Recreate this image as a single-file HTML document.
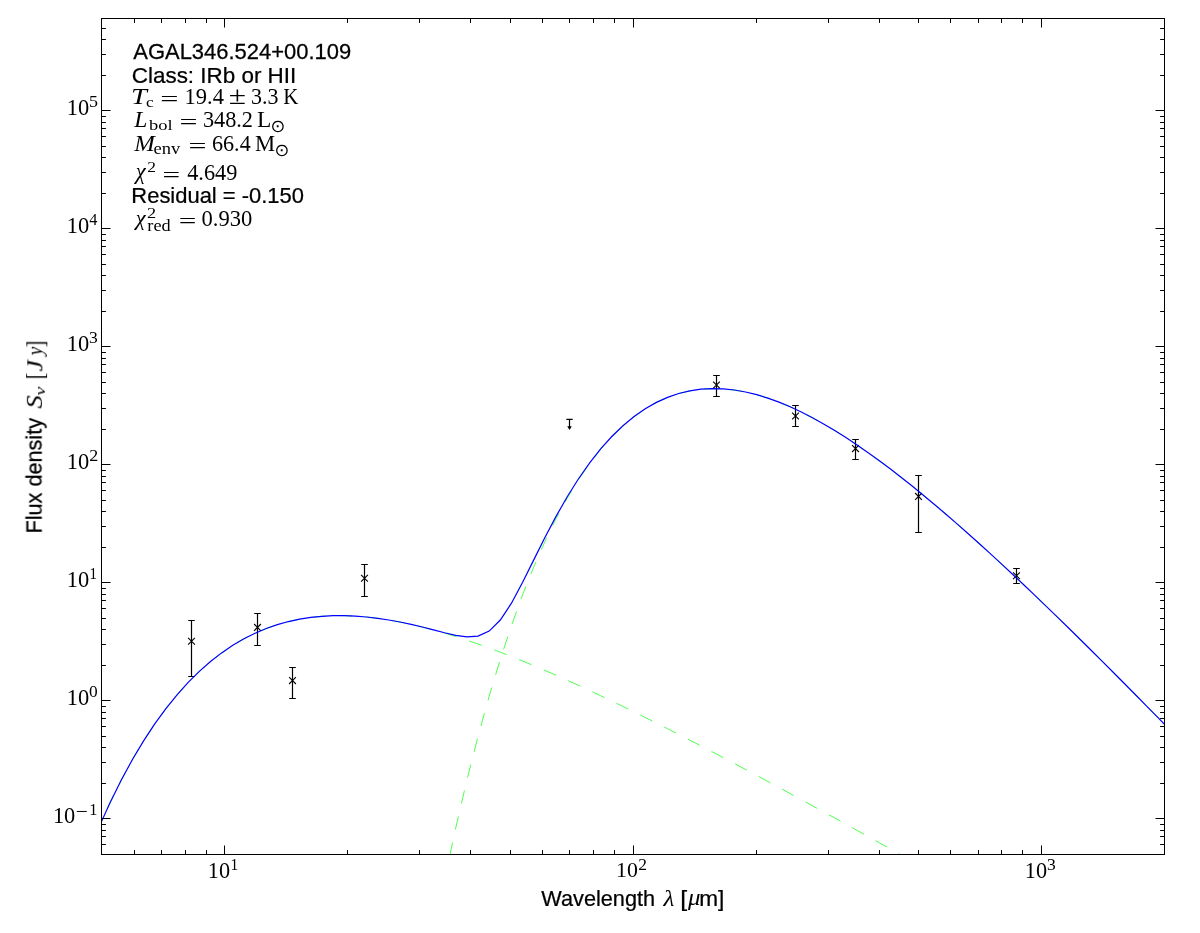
<!DOCTYPE html><html><head><meta charset="utf-8"><style>html,body{margin:0;padding:0;background:#fff;width:1200px;height:933px;overflow:hidden}svg{display:block} text{will-change:transform}</style></head><body><svg width="1200" height="933" viewBox="0 0 1200 933">
<rect width="1200" height="933" fill="#fff"/>
<defs><clipPath id="ax"><rect x="101.5" y="18.5" width="1063" height="836"/></clipPath></defs>
<g clip-path="url(#ax)" fill="none">
<path d="M43.27,985.99 L54.42,948.82 L65.57,914.51 L76.72,882.87 L87.86,853.76 L99.01,827.00 L110.16,802.46 L121.31,780.01 L132.45,759.51 L143.60,740.84 L154.75,723.90 L165.90,708.58 L177.05,694.77 L188.19,682.39 L199.34,671.33 L210.49,661.53 L221.64,652.89 L232.78,645.34 L243.93,638.80 L255.08,633.22 L266.23,628.53 L277.37,624.65 L288.52,621.54 L299.67,619.15 L310.82,617.41 L321.96,616.28 L333.11,615.71 L344.26,615.67 L355.41,616.11 L366.55,617.00 L377.70,618.30 L388.85,619.98 L400.00,622.01 L411.14,624.36 L422.29,627.02 L433.44,629.94 L444.59,633.12 L455.73,636.54 L466.88,640.17 L478.03,644.00 L489.18,648.01 L500.32,652.20 L511.47,656.54 L522.62,661.03 L533.77,665.65 L544.91,670.40 L556.06,675.26 L567.21,680.23 L578.36,685.30 L589.50,690.47 L600.65,695.71 L611.80,701.04 L622.95,706.44 L634.09,711.91 L645.24,717.45 L656.39,723.04 L667.54,728.69 L678.68,734.39 L689.83,740.14 L700.98,745.93 L712.13,751.76 L723.27,757.64 L734.42,763.55 L745.57,769.49 L756.72,775.47 L767.86,781.47 L779.01,787.51 L790.16,793.57 L801.31,799.65 L812.46,805.76 L823.60,811.88 L834.75,818.03 L845.90,824.20 L857.05,830.38 L868.19,836.58 L879.34,842.79 L890.49,849.02 L901.64,855.26 L912.78,861.52 L923.93,867.78 L935.08,874.06 L946.23,880.34 L957.37,886.64 L968.52,892.95 L979.67,899.26 L990.82,905.58 L1001.96,911.91 L1013.11,918.25 L1024.26,924.59 L1035.41,930.94 L1046.55,937.30 L1057.70,943.66 L1068.85,950.02 L1080.00,956.39 L1091.14,962.77 L1102.29,969.15 L1113.44,975.53 L1124.59,981.92 L1135.73,988.31 L1146.88,994.70" stroke="#4dff4d" stroke-width="1.0" stroke-dasharray="13.33 13.33" stroke-dashoffset="24.02"/>
<path d="M422.29,996.64 L433.44,935.86 L444.59,879.72 L455.73,827.92 L466.88,780.21 L478.03,736.34 L489.18,696.07 L500.32,659.19 L511.47,625.49 L522.62,594.77 L533.77,566.85 L544.91,541.56 L556.06,518.75 L567.21,498.25 L578.36,479.94 L589.50,463.67 L600.65,449.32 L611.80,436.77 L622.95,425.92 L634.09,416.66 L645.24,408.88 L656.39,402.50 L667.54,397.42 L678.68,393.57 L689.83,390.86 L700.98,389.23 L712.13,388.59 L723.27,388.88 L734.42,390.04 L745.57,392.00 L756.72,394.72 L767.86,398.13 L779.01,402.18 L790.16,406.84 L801.31,412.04 L812.46,417.76 L823.60,423.94 L834.75,430.57 L845.90,437.59 L857.05,444.99 L868.19,452.73 L879.34,460.79 L890.49,469.14 L901.64,477.75 L912.78,486.62 L923.93,495.71 L935.08,505.01 L946.23,514.51 L957.37,524.19 L968.52,534.04 L979.67,544.04 L990.82,554.18 L1001.96,564.46 L1013.11,574.86 L1024.26,585.37 L1035.41,595.98 L1046.55,606.69 L1057.70,617.50 L1068.85,628.38 L1080.00,639.35 L1091.14,650.38 L1102.29,661.49 L1113.44,672.65 L1124.59,683.88 L1135.73,695.16 L1146.88,706.49 L1158.03,717.86 L1169.18,729.28 L1180.32,740.75 L1191.47,752.25 L1202.62,763.78 L1213.77,775.35 L1224.91,786.95 L1236.06,798.58 L1247.21,810.24 L1258.36,821.92 L1269.50,833.62 L1280.65,845.35 L1291.80,857.10 L1302.95,868.86 L1314.09,880.65 L1325.24,892.45" stroke="#4dff4d" stroke-width="1.0" stroke-dasharray="13.33 13.33" stroke-dashoffset="16.20"/>
</g>
<g stroke="#000" stroke-width="1.2" fill="none">
<path d="M191.5,620.5 V676.5 M188.2,620.5 h6.6 M188.2,676.5 h6.6"/>
<path d="M188.10,637.90 l6.8,6.8 M188.10,644.70 l6.8,-6.8" stroke-width="1.1"/>
<path d="M257.5,613.5 V645.5 M254.2,613.5 h6.6 M254.2,645.5 h6.6"/>
<path d="M254.10,624.00 l6.8,6.8 M254.10,630.80 l6.8,-6.8" stroke-width="1.1"/>
<path d="M292.5,667.5 V698.5 M289.2,667.5 h6.6 M289.2,698.5 h6.6"/>
<path d="M289.10,677.20 l6.8,6.8 M289.10,684.00 l6.8,-6.8" stroke-width="1.1"/>
<path d="M364.5,564.5 V596.5 M361.2,564.5 h6.6 M361.2,596.5 h6.6"/>
<path d="M361.10,574.90 l6.8,6.8 M361.10,581.70 l6.8,-6.8" stroke-width="1.1"/>
<path d="M716.5,375.5 V396.5 M713.2,375.5 h6.6 M713.2,396.5 h6.6"/>
<path d="M713.10,381.60 l6.8,6.8 M713.10,388.40 l6.8,-6.8" stroke-width="1.1"/>
<path d="M795.5,405.5 V426.5 M792.2,405.5 h6.6 M792.2,426.5 h6.6"/>
<path d="M792.10,412.60 l6.8,6.8 M792.10,419.40 l6.8,-6.8" stroke-width="1.1"/>
<path d="M855.5,439.5 V459.5 M852.2,439.5 h6.6 M852.2,459.5 h6.6"/>
<path d="M852.10,445.20 l6.8,6.8 M852.10,452.00 l6.8,-6.8" stroke-width="1.1"/>
<path d="M918.5,475.5 V532.5 M915.2,475.5 h6.6 M915.2,532.5 h6.6"/>
<path d="M915.10,493.00 l6.8,6.8 M915.10,499.80 l6.8,-6.8" stroke-width="1.1"/>
<path d="M1016.5,568.5 V583.5 M1013.2,568.5 h6.6 M1013.2,583.5 h6.6"/>
<path d="M1013.10,572.40 l6.8,6.8 M1013.10,579.20 l6.8,-6.8" stroke-width="1.1"/>
<path d="M569.5,419.3 V427 M566.3,419.3 h6.4"/>
</g>
<path d="M567.2,426.2 L571.8,426.2 L569.5,430 Z" fill="#000"/>
<g clip-path="url(#ax)" fill="none">
<path d="M-57.05,1483.79 L-45.91,1410.99 L-34.76,1343.22 L-23.61,1280.17 L-12.46,1221.54 L-1.32,1167.08 L9.83,1116.52 L20.98,1069.64 L32.13,1026.20 L43.27,985.99 L54.42,948.82 L65.57,914.51 L76.72,882.87 L87.86,853.76 L99.01,827.00 L110.16,802.46 L121.31,780.01 L132.45,759.51 L143.60,740.84 L154.75,723.90 L165.90,708.58 L177.05,694.77 L188.19,682.39 L199.34,671.33 L210.49,661.53 L221.64,652.89 L232.78,645.34 L243.93,638.80 L255.08,633.22 L266.23,628.53 L277.37,624.65 L288.52,621.54 L299.67,619.15 L310.82,617.41 L321.96,616.28 L333.11,615.71 L344.26,615.67 L355.41,616.11 L366.55,617.00 L377.70,618.30 L388.85,619.98 L400.00,622.01 L411.14,624.35 L422.29,626.98 L433.44,629.81 L444.59,632.71 L455.73,635.33 L466.88,636.94 L478.03,636.17 L489.18,631.08 L500.32,620.05 L511.47,603.18 L522.62,582.34 L533.77,559.89 L544.91,537.57 L556.06,516.39 L567.21,496.80 L578.36,479.01 L589.50,463.06 L600.65,448.90 L611.80,436.48 L622.95,425.71 L634.09,416.49 L645.24,408.75 L656.39,402.40 L667.54,397.34 L678.68,393.50 L689.83,390.81 L700.98,389.18 L712.13,388.54 L723.27,388.84 L734.42,390.00 L745.57,391.97 L756.72,394.69 L767.86,398.10 L779.01,402.16 L790.16,406.81 L801.31,412.01 L812.46,417.73 L823.60,423.92 L834.75,430.54 L845.90,437.57 L857.05,444.96 L868.19,452.70 L879.34,460.76 L890.49,469.10 L901.64,477.72 L912.78,486.58 L923.93,495.67 L935.08,504.98 L946.23,514.47 L957.37,524.15 L968.52,533.99 L979.67,543.99 L990.82,554.13 L1001.96,564.40 L1013.11,574.79 L1024.26,585.30 L1035.41,595.91 L1046.55,606.61 L1057.70,617.41 L1068.85,628.29 L1080.00,639.24 L1091.14,650.27 L1102.29,661.36 L1113.44,672.51 L1124.59,683.73 L1135.73,694.99 L1146.88,706.30 L1158.03,717.66 L1169.18,729.06 L1180.32,740.50 L1191.47,751.97 L1202.62,763.48 L1213.77,775.02 L1224.91,786.58 L1236.06,798.17 L1247.21,809.78 L1258.36,821.42 L1269.50,833.07 L1280.65,844.73 L1291.80,856.41 L1302.95,868.11 L1314.09,879.81 L1325.24,891.52" stroke="#0000ff" stroke-width="1.2"/>
</g>
<path d="M134.5,854.5 v-4.4 M134.5,18.5 v4.4 M161.5,854.5 v-4.4 M161.5,18.5 v4.4 M185.5,854.5 v-4.4 M185.5,18.5 v4.4 M206.5,854.5 v-4.4 M206.5,18.5 v4.4 M224.5,854.5 v-9.0 M224.5,18.5 v9.0 M347.5,854.5 v-4.4 M347.5,18.5 v4.4 M419.5,854.5 v-4.4 M419.5,18.5 v4.4 M470.5,854.5 v-4.4 M470.5,18.5 v4.4 M510.5,854.5 v-4.4 M510.5,18.5 v4.4 M542.5,854.5 v-4.4 M542.5,18.5 v4.4 M569.5,854.5 v-4.4 M569.5,18.5 v4.4 M593.5,854.5 v-4.4 M593.5,18.5 v4.4 M614.5,854.5 v-4.4 M614.5,18.5 v4.4 M633.5,854.5 v-9.0 M633.5,18.5 v9.0 M756.5,854.5 v-4.4 M756.5,18.5 v4.4 M828.5,854.5 v-4.4 M828.5,18.5 v4.4 M879.5,854.5 v-4.4 M879.5,18.5 v4.4 M918.5,854.5 v-4.4 M918.5,18.5 v4.4 M950.5,854.5 v-4.4 M950.5,18.5 v4.4 M978.5,854.5 v-4.4 M978.5,18.5 v4.4 M1001.5,854.5 v-4.4 M1001.5,18.5 v4.4 M1022.5,854.5 v-4.4 M1022.5,18.5 v4.4 M1041.5,854.5 v-9.0 M1041.5,18.5 v9.0 M101.5,844.5 h4.4 M1164.5,844.5 h-4.4 M101.5,836.5 h4.4 M1164.5,836.5 h-4.4 M101.5,830.5 h4.4 M1164.5,830.5 h-4.4 M101.5,824.5 h4.4 M1164.5,824.5 h-4.4 M101.5,818.5 h9.0 M1164.5,818.5 h-9.0 M101.5,783.5 h4.4 M1164.5,783.5 h-4.4 M101.5,762.5 h4.4 M1164.5,762.5 h-4.4 M101.5,747.5 h4.4 M1164.5,747.5 h-4.4 M101.5,736.5 h4.4 M1164.5,736.5 h-4.4 M101.5,726.5 h4.4 M1164.5,726.5 h-4.4 M101.5,718.5 h4.4 M1164.5,718.5 h-4.4 M101.5,712.5 h4.4 M1164.5,712.5 h-4.4 M101.5,706.5 h4.4 M1164.5,706.5 h-4.4 M101.5,700.5 h9.0 M1164.5,700.5 h-9.0 M101.5,665.5 h4.4 M1164.5,665.5 h-4.4 M101.5,644.5 h4.4 M1164.5,644.5 h-4.4 M101.5,629.5 h4.4 M1164.5,629.5 h-4.4 M101.5,618.5 h4.4 M1164.5,618.5 h-4.4 M101.5,608.5 h4.4 M1164.5,608.5 h-4.4 M101.5,600.5 h4.4 M1164.5,600.5 h-4.4 M101.5,594.5 h4.4 M1164.5,594.5 h-4.4 M101.5,588.5 h4.4 M1164.5,588.5 h-4.4 M101.5,582.5 h9.0 M1164.5,582.5 h-9.0 M101.5,547.5 h4.4 M1164.5,547.5 h-4.4 M101.5,526.5 h4.4 M1164.5,526.5 h-4.4 M101.5,511.5 h4.4 M1164.5,511.5 h-4.4 M101.5,500.5 h4.4 M1164.5,500.5 h-4.4 M101.5,490.5 h4.4 M1164.5,490.5 h-4.4 M101.5,482.5 h4.4 M1164.5,482.5 h-4.4 M101.5,476.5 h4.4 M1164.5,476.5 h-4.4 M101.5,470.5 h4.4 M1164.5,470.5 h-4.4 M101.5,464.5 h9.0 M1164.5,464.5 h-9.0 M101.5,429.5 h4.4 M1164.5,429.5 h-4.4 M101.5,408.5 h4.4 M1164.5,408.5 h-4.4 M101.5,393.5 h4.4 M1164.5,393.5 h-4.4 M101.5,382.5 h4.4 M1164.5,382.5 h-4.4 M101.5,372.5 h4.4 M1164.5,372.5 h-4.4 M101.5,364.5 h4.4 M1164.5,364.5 h-4.4 M101.5,358.5 h4.4 M1164.5,358.5 h-4.4 M101.5,352.5 h4.4 M1164.5,352.5 h-4.4 M101.5,346.5 h9.0 M1164.5,346.5 h-9.0 M101.5,311.5 h4.4 M1164.5,311.5 h-4.4 M101.5,290.5 h4.4 M1164.5,290.5 h-4.4 M101.5,275.5 h4.4 M1164.5,275.5 h-4.4 M101.5,264.5 h4.4 M1164.5,264.5 h-4.4 M101.5,254.5 h4.4 M1164.5,254.5 h-4.4 M101.5,246.5 h4.4 M1164.5,246.5 h-4.4 M101.5,240.5 h4.4 M1164.5,240.5 h-4.4 M101.5,234.5 h4.4 M1164.5,234.5 h-4.4 M101.5,228.5 h9.0 M1164.5,228.5 h-9.0 M101.5,193.5 h4.4 M1164.5,193.5 h-4.4 M101.5,172.5 h4.4 M1164.5,172.5 h-4.4 M101.5,157.5 h4.4 M1164.5,157.5 h-4.4 M101.5,146.5 h4.4 M1164.5,146.5 h-4.4 M101.5,136.5 h4.4 M1164.5,136.5 h-4.4 M101.5,128.5 h4.4 M1164.5,128.5 h-4.4 M101.5,122.5 h4.4 M1164.5,122.5 h-4.4 M101.5,116.5 h4.4 M1164.5,116.5 h-4.4 M101.5,110.5 h9.0 M1164.5,110.5 h-9.0 M101.5,75.5 h4.4 M1164.5,75.5 h-4.4 M101.5,54.5 h4.4 M1164.5,54.5 h-4.4 M101.5,39.5 h4.4 M1164.5,39.5 h-4.4 M101.5,28.5 h4.4 M1164.5,28.5 h-4.4" stroke="#000" stroke-width="1" fill="none"/>
<rect x="101.5" y="18.5" width="1063" height="836" fill="none" stroke="#000" stroke-width="1"/>
<text transform="matrix(0.21964,0.00000,0.00000,0.22535,133.25000,58.77465)" font-family="'Liberation Sans', Arial, Helvetica, sans-serif" stroke="#000" stroke-width="1.138" font-size="100">AGAL346.524+00.109</text>
<text transform="matrix(0.22434,0.00000,0.00000,0.21486,131.77830,82.78514)" font-family="'Liberation Sans', Arial, Helvetica, sans-serif" stroke="#000" stroke-width="1.114" font-size="100">Class: IRb or HII</text>
<text transform="matrix(0.28519,0.00000,0.00000,0.23385,131.00370,104.20000)" font-family="'Liberation Serif', 'Times New Roman', serif" font-style="italic" font-size="100">T</text>
<text transform="matrix(0.17297,0.00000,0.00000,0.13750,146.00811,106.76250)" font-family="'Liberation Serif', 'Times New Roman', serif" font-size="100">c</text>
<text transform="matrix(0.32340,0.00000,0.00000,0.22000,160.28298,105.72000)" font-family="'Liberation Serif', 'Times New Roman', serif" font-size="100">=</text>
<text transform="matrix(0.22500,0.00000,0.00000,0.22388,184.57500,103.97612)" font-family="'Liberation Serif', 'Times New Roman', serif" font-size="100">19.4</text>
<text transform="matrix(0.31489,0.00000,0.00000,0.25268,228.84043,103.90000)" font-family="'Liberation Serif', 'Times New Roman', serif" font-size="100">±</text>
<text transform="matrix(0.21983,0.00000,0.00000,0.22727,250.90086,103.97273)" font-family="'Liberation Serif', 'Times New Roman', serif" font-size="100">3.3</text>
<text transform="matrix(0.20882,0.00000,0.00000,0.22769,283.27353,104.00000)" font-family="'Liberation Serif', 'Times New Roman', serif" font-size="100">K</text>
<text transform="matrix(0.23654,0.00000,0.00000,0.22615,134.23654,127.00000)" font-family="'Liberation Serif', 'Times New Roman', serif" font-style="italic" font-size="100">L</text>
<text transform="matrix(0.18492,0.00000,0.00000,0.15571,149.00000,129.74429)" font-family="'Liberation Serif', 'Times New Roman', serif" font-size="100">bol</text>
<text transform="matrix(0.31915,0.00000,0.00000,0.20800,179.40426,128.56800)" font-family="'Liberation Serif', 'Times New Roman', serif" font-size="100">=</text>
<text transform="matrix(0.22290,0.00000,0.00000,0.22836,202.88551,126.74328)" font-family="'Liberation Serif', 'Times New Roman', serif" font-size="100">348.2</text>
<text transform="matrix(0.23462,0.00000,0.00000,0.23231,257.09615,127.00000)" font-family="'Liberation Serif', 'Times New Roman', serif" font-size="100">L</text>
<text transform="matrix(0.17727,0.00000,0.00000,0.17692,270.50455,131.52308)" font-family="'DejaVu Sans', sans-serif" font-size="100">⊙</text>
<text transform="matrix(0.24719,0.00000,0.00000,0.22923,134.24719,151.00000)" font-family="'Liberation Serif', 'Times New Roman', serif" font-style="italic" font-size="100">M</text>
<text transform="matrix(0.18571,0.00000,0.00000,0.16042,153.55714,153.83958)" font-family="'Liberation Serif', 'Times New Roman', serif" font-size="100">env</text>
<text transform="matrix(0.31915,0.00000,0.00000,0.20800,188.40426,152.56800)" font-family="'Liberation Serif', 'Times New Roman', serif" font-size="100">=</text>
<text transform="matrix(0.22189,0.00000,0.00000,0.22836,211.91243,150.74328)" font-family="'Liberation Serif', 'Times New Roman', serif" font-size="100">66.4</text>
<text transform="matrix(0.22651,0.00000,0.00000,0.22923,254.92048,151.00000)" font-family="'Liberation Serif', 'Times New Roman', serif" font-size="100">M</text>
<text transform="matrix(0.17727,0.00000,0.00000,0.17692,274.40455,155.52308)" font-family="'DejaVu Sans', sans-serif" font-size="100">⊙</text>
<text transform="matrix(0.22500,0.00000,0.00000,0.22537,135.65000,179.36716)" font-family="'Liberation Serif', 'Times New Roman', serif" font-style="italic" font-size="100">χ</text>
<text transform="matrix(0.17500,0.00000,0.00000,0.15077,147.20000,171.90000)" font-family="'Liberation Serif', 'Times New Roman', serif" font-size="100">2</text>
<text transform="matrix(0.31277,0.00000,0.00000,0.20400,162.53617,181.58400)" font-family="'Liberation Serif', 'Times New Roman', serif" font-size="100">=</text>
<text transform="matrix(0.22329,0.00000,0.00000,0.22239,187.15342,179.75522)" font-family="'Liberation Serif', 'Times New Roman', serif" font-size="100">4.649</text>
<text transform="matrix(0.21961,0.00000,0.00000,0.21757,131.34310,202.98243)" font-family="'Liberation Sans', Arial, Helvetica, sans-serif" stroke="#000" stroke-width="1.138" font-size="100">Residual = -0.150</text>
<text transform="matrix(0.22407,0.00000,0.00000,0.21791,135.79259,225.42388)" font-family="'Liberation Serif', 'Times New Roman', serif" font-style="italic" font-size="100">χ</text>
<text transform="matrix(0.18250,0.00000,0.00000,0.15538,146.97000,218.00000)" font-family="'Liberation Serif', 'Times New Roman', serif" font-size="100">2</text>
<text transform="matrix(0.18320,0.00000,0.00000,0.15714,147.33360,231.44286)" font-family="'Liberation Serif', 'Times New Roman', serif" font-size="100">red</text>
<text transform="matrix(0.31277,0.00000,0.00000,0.20000,178.63617,227.60000)" font-family="'Liberation Serif', 'Times New Roman', serif" font-size="100">=</text>
<text transform="matrix(0.22581,0.00000,0.00000,0.22239,201.49677,225.95522)" font-family="'Liberation Serif', 'Times New Roman', serif" font-size="100">0.930</text>
<text transform="matrix(0.21712,0.00000,0.00000,0.21489,541.28288,905.88723)" font-family="'Liberation Sans', Arial, Helvetica, sans-serif" stroke="#000" stroke-width="1.151" font-size="100">Wavelength</text>
<text transform="matrix(0.25233,0.00000,0.00000,0.22286,663.40465,905.80000)" font-family="'Liberation Serif', 'Times New Roman', serif" font-style="italic" font-size="100">λ</text>
<text transform="matrix(0.25000,0.00000,0.00000,0.21489,680.35000,905.88723)" font-family="'Liberation Sans', Arial, Helvetica, sans-serif" stroke="#000" stroke-width="1.000" font-size="100">[</text>
<text transform="matrix(0.24894,0.00000,0.00000,0.22985,687.90000,905.17313)" font-family="'Liberation Serif', 'Times New Roman', serif" font-style="italic" font-size="100">μ</text>
<text transform="matrix(0.22577,0.00000,0.00000,0.21489,699.21959,905.88723)" font-family="'Liberation Sans', Arial, Helvetica, sans-serif" stroke="#000" stroke-width="1.107" font-size="100">m]</text>
<text transform="matrix(0.00000,-0.21676,0.21596,0.00000,41.86489,533.53410)" font-family="'Liberation Sans', Arial, Helvetica, sans-serif" stroke="#000" stroke-width="1.158" font-size="100">Flux density</text>
<text transform="matrix(0.00000,-0.26596,0.24030,0.00000,41.71940,408.56596)" font-family="'Liberation Serif', 'Times New Roman', serif" font-style="italic" font-size="100">S</text>
<text transform="matrix(0.00000,-0.19762,0.14468,0.00000,44.65532,395.49524)" font-family="'Liberation Serif', 'Times New Roman', serif" font-style="italic" font-size="100">ν</text>
<text transform="matrix(0.00000,-0.19565,0.25122,0.00000,43.43415,379.16957)" font-family="'Liberation Serif', 'Times New Roman', serif" font-size="100">[</text>
<text transform="matrix(0.00000,-0.25870,0.23939,0.00000,42.66061,371.51739)" font-family="'Liberation Serif', 'Times New Roman', serif" font-style="italic" font-size="100">J</text>
<text transform="matrix(0.00000,-0.19231,0.21194,0.00000,41.64925,355.36154)" font-family="'Liberation Serif', 'Times New Roman', serif" font-style="italic" font-size="100">y</text>
<text transform="matrix(0.00000,-0.20455,0.25122,0.00000,43.43415,347.41818)" font-family="'Liberation Serif', 'Times New Roman', serif" font-size="100">]</text>
<text transform="matrix(0.22299,0.00000,0.00000,0.22059,207.79310,877.55882)" font-family="'Liberation Serif', 'Times New Roman', serif" font-size="100">10</text>
<text transform="matrix(0.15429,0.00000,0.00000,0.16364,230.41143,869.80000)" font-family="'Liberation Serif', 'Times New Roman', serif" font-size="100">1</text>
<text transform="matrix(0.21839,0.00000,0.00000,0.21691,616.03448,877.41618)" font-family="'Liberation Serif', 'Times New Roman', serif" font-size="100">10</text>
<text transform="matrix(0.17500,0.00000,0.00000,0.16308,638.20000,869.90000)" font-family="'Liberation Serif', 'Times New Roman', serif" font-size="100">2</text>
<text transform="matrix(0.22299,0.00000,0.00000,0.22059,1024.79310,877.55882)" font-family="'Liberation Serif', 'Times New Roman', serif" font-size="100">10</text>
<text transform="matrix(0.17561,0.00000,0.00000,0.16364,1046.92195,869.63636)" font-family="'Liberation Serif', 'Times New Roman', serif" font-size="100">3</text>
<text transform="matrix(0.22471,0.00000,0.00000,0.22500,66.72759,114.95000)" font-family="'Liberation Serif', 'Times New Roman', serif" font-size="100">10</text>
<text transform="matrix(0.18000,0.00000,0.00000,0.16136,88.92000,106.58864)" font-family="'Liberation Serif', 'Times New Roman', serif" font-size="100">5</text>
<text transform="matrix(0.22471,0.00000,0.00000,0.22500,66.72759,232.95000)" font-family="'Liberation Serif', 'Times New Roman', serif" font-size="100">10</text>
<text transform="matrix(0.16304,0.00000,0.00000,0.16385,89.27391,224.75000)" font-family="'Liberation Serif', 'Times New Roman', serif" font-size="100">4</text>
<text transform="matrix(0.22471,0.00000,0.00000,0.22500,66.72759,350.95000)" font-family="'Liberation Serif', 'Times New Roman', serif" font-size="100">10</text>
<text transform="matrix(0.17561,0.00000,0.00000,0.16136,89.02195,342.58864)" font-family="'Liberation Serif', 'Times New Roman', serif" font-size="100">3</text>
<text transform="matrix(0.22471,0.00000,0.00000,0.22500,66.72759,468.95000)" font-family="'Liberation Serif', 'Times New Roman', serif" font-size="100">10</text>
<text transform="matrix(0.18000,0.00000,0.00000,0.16385,89.18000,460.75000)" font-family="'Liberation Serif', 'Times New Roman', serif" font-size="100">2</text>
<text transform="matrix(0.22471,0.00000,0.00000,0.22500,66.72759,586.95000)" font-family="'Liberation Serif', 'Times New Roman', serif" font-size="100">10</text>
<text transform="matrix(0.14857,0.00000,0.00000,0.16136,89.46286,578.75000)" font-family="'Liberation Serif', 'Times New Roman', serif" font-size="100">1</text>
<text transform="matrix(0.22471,0.00000,0.00000,0.22500,66.72759,704.95000)" font-family="'Liberation Serif', 'Times New Roman', serif" font-size="100">10</text>
<text transform="matrix(0.17381,0.00000,0.00000,0.15896,89.10476,697.03209)" font-family="'Liberation Serif', 'Times New Roman', serif" font-size="100">0</text>
<text transform="matrix(0.22414,0.00000,0.00000,0.22500,52.88276,822.95000)" font-family="'Liberation Serif', 'Times New Roman', serif" font-size="100">10</text>
<text transform="matrix(0.21489,0.00000,0.00000,0.20000,75.82553,818.20000)" font-family="'Liberation Serif', 'Times New Roman', serif" font-size="100">−</text>
<text transform="matrix(0.16286,0.00000,0.00000,0.16818,89.13429,815.10000)" font-family="'Liberation Serif', 'Times New Roman', serif" font-size="100">1</text>
</svg></body></html>
